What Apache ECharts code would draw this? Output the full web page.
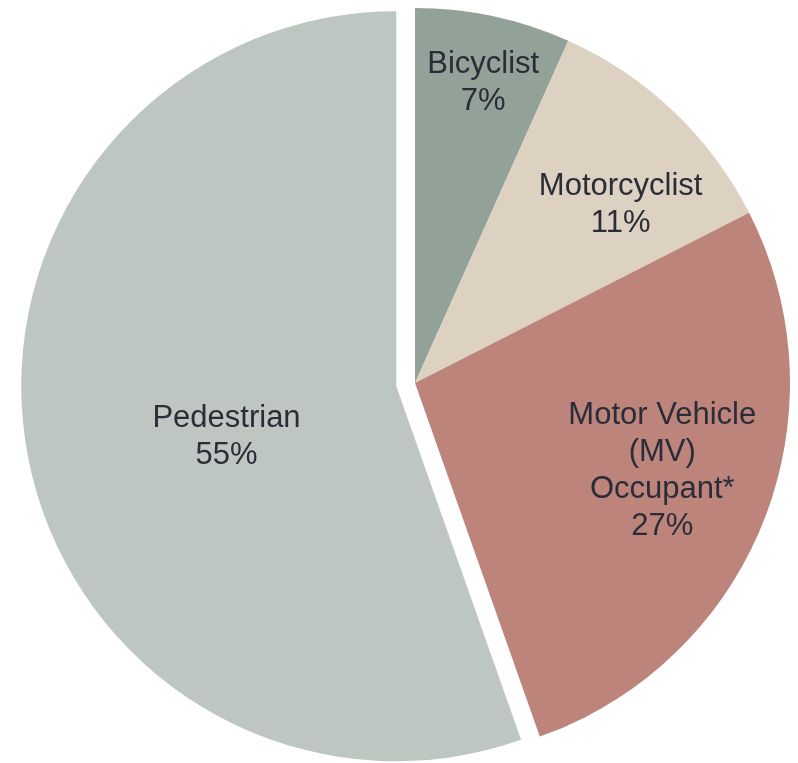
<!DOCTYPE html>
<html><head><meta charset="utf-8">
<script src="https://cdn.jsdelivr.net/npm/echarts@6/dist/echarts.min.js"></script>
<style>html,body{margin:0;padding:0;background:#fff}#c{width:798px;height:763px}</style>
</head><body><div id="c"></div>
<script>
const categories = ['Bicyclist', 'Motorcyclist', 'Motor Vehicle\n(MV)\nOccupant*', 'Pedestrian'];
const values = [6.7, 10.8, 27.1, 55.4];
const colors = ['#92a298', '#ddd1c2', '#bc847a', '#bec6c1'];
const exploded = [false, false, false, true];
const labelRadius = [0.82, 0.73, 0.69, 0.47];
const labelNudge = [[4, 1], [17, 20], [7, -8], [18, 17]];

const CX = 415, CY = 383, R = 375, OFF = 19;
const chart = echarts.init(document.getElementById('c'), null, {renderer: 'canvas'});

function labelPos(p) {
  const lay = chart.getModel().getSeriesByIndex(0).getData().getItemLayout(p.dataIndex);
  const mid = (lay.startAngle + lay.endAngle) / 2;
  const i = p.dataIndex;
  const rr = lay.r * labelRadius[i] + (exploded[i] ? OFF : 0);
  return {
    x: lay.cx + Math.cos(mid) * rr + labelNudge[i][0],
    y: lay.cy + Math.sin(mid) * rr + labelNudge[i][1],
    align: 'center',
    verticalAlign: 'middle'
  };
}

chart.setOption({
  animation: false,
  series: [{
    type: 'pie',
    center: [CX, CY],
    radius: R,
    startAngle: 90,
    clockwise: true,
    selectedMode: 'multiple',
    selectedOffset: OFF,
    percentPrecision: 0,
    avoidLabelOverlap: false,
    data: categories.map((n, i) => {
      const item = {
        name: n, value: values[i], selected: exploded[i],
        itemStyle: {color: colors[i]}
      };
      if (exploded[i]) {
        // selected-state labels keep the library's default inside spot; shift the text
        item.label = {
          padding: [0, 0, 0, labelNudge[i][0] * 2],
          formatter: '\n{b}\n{d}%'
        };
      }
      return item;
    }),
    label: {
      show: true,
      position: 'inside',
      formatter: '{b}\n{d}%',
      color: '#2a2c38',
      fontSize: 31,
      lineHeight: 37,
      fontFamily: '"Liberation Sans", Arial, sans-serif'
    },
    labelLine: {show: false},
    emphasis: {disabled: true},
    labelLayout: labelPos
  }]
});
</script>
</body></html>
